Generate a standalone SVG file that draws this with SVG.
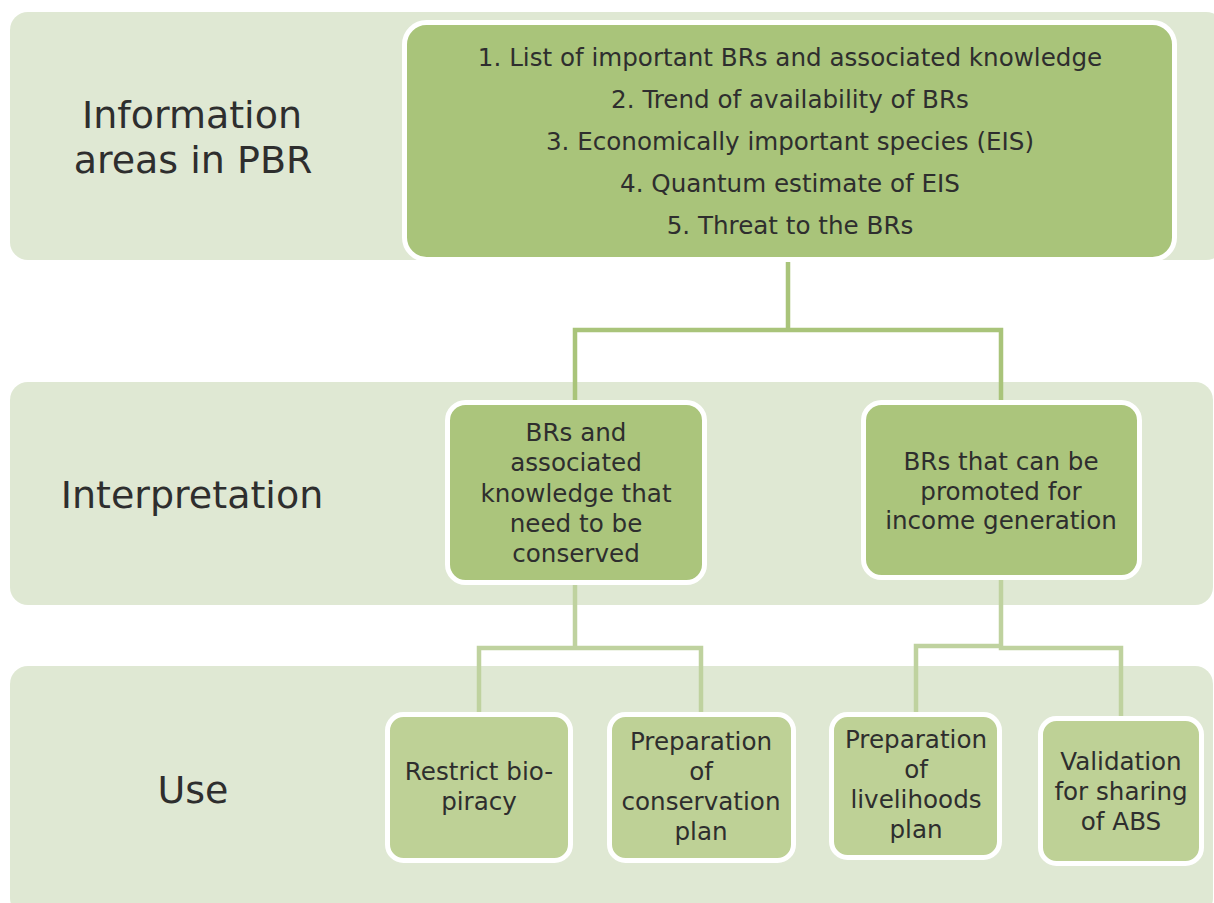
<svg xmlns="http://www.w3.org/2000/svg" width="1214" height="903" viewBox="0 0 1214 903">
  <style>
    text { font-family: "DejaVu Sans", "Liberation Sans", sans-serif; fill: #2e2e2e; text-anchor: middle; }
    .band { fill: #dfe8d3; }
    .lbl { font-size: 38px; }
    .main { fill: #a9c47a; stroke: #ffffff; stroke-width: 5; }
    .mid { fill: #abc57c; stroke: #ffffff; stroke-width: 5; }
    .leaf { fill: #bed196; stroke: #ffffff; stroke-width: 5; }
    .t24 { font-size: 24.6px; }
    .conn1 { fill: none; stroke: #a9c47a; stroke-width: 4.5; }
    .conn2 { fill: none; stroke: #bfd29f; stroke-width: 4.5; }
  </style>

  <!-- background bands -->
  <g id="bands">
    <rect class="band" x="10" y="12" width="1214" height="248" rx="18"/>
    <rect class="band" x="10" y="382" width="1203" height="223" rx="18"/>
    <rect class="band" x="10" y="666" width="1203" height="250" rx="18"/>
  </g>

  <!-- row labels -->
  <g id="label-info">
    <text class="lbl" x="192" y="128">Information</text>
    <text class="lbl" x="193" y="173">areas in PBR</text>
  </g>
  <g id="label-interp">
    <text class="lbl" x="192" y="508">Interpretation</text>
  </g>
  <g id="label-use">
    <text class="lbl" x="193" y="803">Use</text>
  </g>

  <!-- connectors -->
  <g id="connectors">
    <path class="conn1" d="M788,262 V330 M575,402 V330 H1001 V402"/>
    <path class="conn2" d="M575,583 V648 M479,712 V648 H701 V712"/>
    <path class="conn2" d="M1001,578 V648 H1121 V716 M1001,646 H916 V712"/>
  </g>

  <!-- information areas -->
  <g id="node-info">
    <rect class="main" x="404.5" y="22.5" width="770" height="237" rx="22"/>
    <text class="t24" x="790" y="66">1. List of important BRs and associated knowledge</text>
    <text class="t24" x="790" y="108">2. Trend of availability of BRs</text>
    <text class="t24" x="790" y="150">3. Economically important species (EIS)</text>
    <text class="t24" x="790" y="192">4. Quantum estimate of EIS</text>
    <text class="t24" x="790" y="234">5. Threat to the BRs</text>
  </g>

  <!-- interpretation -->
  <g id="node-conserve">
    <rect class="mid" x="447.5" y="402.5" width="257" height="180" rx="18"/>
    <text class="t24" x="576" y="441">BRs and</text>
    <text class="t24" x="576" y="471">associated</text>
    <text class="t24" x="576" y="502">knowledge that</text>
    <text class="t24" x="576" y="532">need to be</text>
    <text class="t24" x="576" y="562">conserved</text>
  </g>
  <g id="node-income">
    <rect class="mid" x="863.5" y="402.5" width="276" height="175" rx="18"/>
    <text class="t24" x="1001" y="470">BRs that can be</text>
    <text class="t24" x="1001" y="500">promoted for</text>
    <text class="t24" x="1001" y="529">income generation</text>
  </g>

  <!-- use -->
  <g id="node-biopiracy">
    <rect class="leaf" x="387.5" y="714.5" width="183" height="146" rx="16"/>
    <text class="t24" x="479" y="780">Restrict bio-</text>
    <text class="t24" x="479" y="810">piracy</text>
  </g>
  <g id="node-conservation-plan">
    <rect class="leaf" x="609.5" y="714.5" width="184" height="146" rx="16"/>
    <text class="t24" x="701" y="750">Preparation</text>
    <text class="t24" x="701" y="780">of</text>
    <text class="t24" x="701" y="810">conservation</text>
    <text class="t24" x="701" y="840">plan</text>
  </g>
  <g id="node-livelihoods">
    <rect class="leaf" x="831.5" y="714.5" width="168" height="143" rx="16"/>
    <text class="t24" x="916" y="748">Preparation</text>
    <text class="t24" x="916" y="778">of</text>
    <text class="t24" x="916" y="808">livelihoods</text>
    <text class="t24" x="916" y="838">plan</text>
  </g>
  <g id="node-abs">
    <rect class="leaf" x="1040.5" y="718.5" width="161" height="145" rx="16"/>
    <text class="t24" x="1121" y="770">Validation</text>
    <text class="t24" x="1121" y="800">for sharing</text>
    <text class="t24" x="1121" y="830">of ABS</text>
  </g>
</svg>
